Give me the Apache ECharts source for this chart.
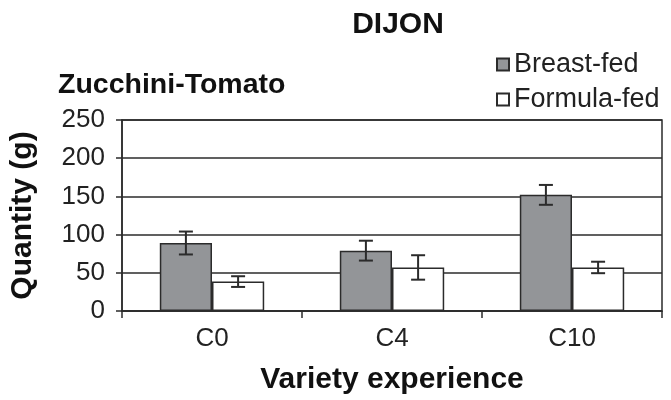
<!DOCTYPE html>
<html>
<head>
<meta charset="utf-8">
<script src="https://cdn.jsdelivr.net/npm/echarts@6/dist/echarts.min.js"></script>
<style>
  html, body { margin: 0; padding: 0; background: #fff; }
  #chart { width: 671px; height: 400px; }
</style>
</head>
<body>
<div id="chart"></div>
<script>
// Mean quantity eaten (g) by variety experience group, with error bars
const categories = ['C0', 'C4', 'C10'];
const breastFed = [89, 79, 152];
const breastFedErr = [15, 13, 13];
const formulaFed = [38.5, 57, 57];
const formulaFedErr = [7, 16, 7.5];
const yTicks = [0, 50, 100, 150, 200, 250];

const FONT = "'Liberation Sans', Arial, sans-serif";
const INK = '#2b2b2b';
const CAT_GAP = 0.42;

function errData(vals, errs) {
  return vals.map((v, i) => [i, v - errs[i], v + errs[i]]);
}

// side: -1 for the left bar of each pair, +1 for the right one
function errorBarRenderer(side) {
  return function (params, api) {
    const cat = api.value(0);
    const lo = api.coord([cat, api.value(1)]);
    const hi = api.coord([cat, api.value(2)]);
    const band = api.size([1, 0])[0];
    const barW = band * (1 - CAT_GAP) / 2;
    const x = lo[0] + side * barW / 2;
    const cap = 7;
    const style = { stroke: INK, lineWidth: 2 };
    return {
      type: 'group',
      children: [
        { type: 'line', shape: { x1: x, y1: hi[1], x2: x, y2: lo[1] }, style },
        { type: 'line', shape: { x1: x - cap, y1: hi[1], x2: x + cap, y2: hi[1] }, style },
        { type: 'line', shape: { x1: x - cap, y1: lo[1], x2: x + cap, y2: lo[1] }, style }
      ]
    };
  };
}

const chart = echarts.init(document.getElementById('chart'), null, { renderer: 'canvas' });

chart.setOption({
  animation: false,
  textStyle: { fontFamily: FONT },
  title: [
    {
      text: 'DIJON',
      left: 393, top: 5, textAlign: 'center',
      textStyle: { fontFamily: FONT, fontSize: 30, fontWeight: 'bold', color: '#111' }
    },
    {
      text: 'Zucchini-Tomato',
      left: 53, top: 66,
      textStyle: { fontFamily: FONT, fontSize: 28.5, fontWeight: 'bold', color: '#111' }
    }
  ],
  legend: {
    data: ['Breast-fed', 'Formula-fed'],
    orient: 'vertical',
    left: 491, top: 46,
    itemWidth: 12, itemHeight: 12,
    itemGap: 8,
    icon: 'rect',
    textStyle: { fontFamily: FONT, fontSize: 27, color: '#222', padding: [0, 0, 0, 0] }
  },
  grid: {
    left: 122, right: 9, top: 120, bottom: 89,
    show: true, borderColor: INK, borderWidth: 1.5, backgroundColor: 'transparent'
  },
  xAxis: {
    type: 'category',
    data: categories,
    name: 'Variety experience',
    nameLocation: 'middle',
    nameGap: 54,
    nameTextStyle: { fontFamily: FONT, fontSize: 30, fontWeight: 'bold', color: '#111' },
    axisLine: { lineStyle: { color: INK, width: 1.5 } },
    axisTick: { show: true, length: 7, lineStyle: { color: INK, width: 1.5 } },
    axisLabel: { fontFamily: FONT, fontSize: 26, color: '#222', margin: 15 }
  },
  yAxis: {
    type: 'value',
    min: yTicks[0], max: yTicks[yTicks.length - 1], interval: 50,
    name: 'Quantity (g)',
    nameLocation: 'middle',
    nameRotate: 90,
    nameGap: 84,
    nameTextStyle: { fontFamily: FONT, fontSize: 30, fontWeight: 'bold', color: '#111' },
    axisLine: { show: true, lineStyle: { color: INK, width: 1.5 } },
    axisTick: { show: true, length: 6, lineStyle: { color: INK, width: 1.5 } },
    axisLabel: { fontFamily: FONT, fontSize: 26, color: '#222', margin: 17 },
    splitLine: { show: true, lineStyle: { color: INK, width: 1.5 } }
  },
  series: [
    {
      name: 'Breast-fed',
      type: 'bar',
      data: breastFed,
      barGap: '0%',
      barCategoryGap: (CAT_GAP * 100) + '%',
      itemStyle: { color: '#939598', borderColor: INK, borderWidth: 1.5 }
    },
    {
      name: 'Formula-fed',
      type: 'bar',
      data: formulaFed,
      barGap: '0%',
      barCategoryGap: (CAT_GAP * 100) + '%',
      itemStyle: { color: '#ffffff', borderColor: INK, borderWidth: 1.5 }
    },
    {
      name: 'Breast-fed error',
      type: 'custom',
      data: errData(breastFed, breastFedErr),
      encode: { x: 0, y: [1, 2] },
      renderItem: errorBarRenderer(-1),
      z: 10
    },
    {
      name: 'Formula-fed error',
      type: 'custom',
      data: errData(formulaFed, formulaFedErr),
      encode: { x: 0, y: [1, 2] },
      renderItem: errorBarRenderer(1),
      z: 10
    }
  ]
});
</script>
</body>
</html>
